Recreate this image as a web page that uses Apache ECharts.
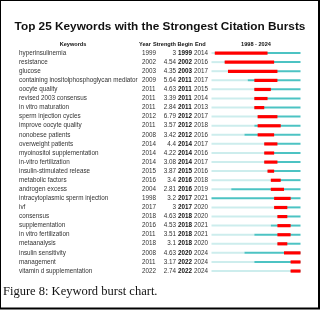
<!DOCTYPE html>
<html>
<head>
<meta charset="utf-8">
<script src="https://cdn.jsdelivr.net/npm/echarts@6/dist/echarts.min.js"></script>
<style>
  html, body { margin: 0; padding: 0; background: #fff; }
  #chart { width: 320px; height: 310px; }
</style>
</head>
<body>
<div id="chart"></div>
<script>
const keywords = [
    "hyperinsulinemia", "resistance", "glucose", "containing inositolphosphoglycan mediator",
    "oocyte quality", "revised 2003 consensus", "in vitro maturation", "sperm injection cycles",
    "improve oocyte quality", "nonobese patients", "overweight patients", "myoinositol supplementation",
    "in-vitro fertilization", "insulin-stimulated release", "metabolic factors", "androgen excess",
    "intracytoplasmic sperm injection", "ivf", "consensus", "supplementation",
    "in vitro fertilization", "metaanalysis", "insulin sensitivity", "management",
    "vitamin d supplementation"
];
const years = [1999, 2002, 2003, 2009, 2011, 2011, 2011, 2012, 2011, 2008, 2014, 2014, 2014,
    2015, 2016, 2004, 1998, 2017, 2018, 2016, 2011, 2018, 2008, 2011, 2022];
const strengths = ["3", "4.54", "4.35", "5.64", "4.63", "3.39", "2.84", "6.79", "3.57", "3.42",
    "4.4", "4.22", "3.08", "3.87", "3.4", "2.81", "3.2", "3", "4.63", "4.53", "3.51", "3.1",
    "4.63", "3.17", "2.74"];
const begins = [1999, 2002, 2003, 2011, 2011, 2011, 2011, 2012, 2012, 2012, 2014, 2014, 2014,
    2015, 2016, 2016, 2017, 2017, 2018, 2018, 2018, 2018, 2020, 2022, 2022];
const ends = [2014, 2016, 2017, 2017, 2015, 2014, 2013, 2017, 2018, 2016, 2017, 2016, 2017,
    2016, 2018, 2019, 2021, 2020, 2020, 2021, 2021, 2020, 2024, 2024, 2024];
const firstYear = 1998;
const lastYear = 2024;

const txt = "#333";
const font = "Liberation Sans";
const fs = 6.3;

const chart = echarts.init(document.getElementById("chart"));

function colAxis(data, align, margin, bold) {
    return {
        type: "category",
        data: data,
        inverse: true,
        position: "left",
        axisLine: { show: false },
        axisTick: { show: false },
        splitLine: { show: false },
        axisLabel: {
            align: align,
            margin: margin,
            fontSize: fs,
            color: bold ? "#111" : txt,
            fontWeight: bold ? "bold" : "normal",
            fontFamily: font,
            interval: 0
        }
    };
}

function renderBurst(params, api) {
    const row = api.value(0);
    const y = api.coord([firstYear, row])[1];
    const x0 = api.coord([firstYear, row])[0];
    const xY = api.coord([api.value(1), row])[0];
    const xB = api.coord([api.value(2), row])[0];
    const xE = api.coord([api.value(3) + 1, row])[0];
    const x1 = api.coord([lastYear + 1, row])[0];
    return {
        type: "group",
        children: [
            { type: "rect", shape: { x: x0, y: y - 1, width: xY - x0, height: 2 },
              style: { fill: "#cdeded" } },
            { type: "rect", shape: { x: xY, y: y - 1, width: x1 - xY, height: 2 },
              style: { fill: "#4cc3c3" } },
            { type: "rect", shape: { x: xB, y: y - 1.5, width: xE - xB, height: 3.2 },
              style: { fill: "#ff0000" } }
        ]
    };
}

const burstData = keywords.map((k, i) => [i, years[i], begins[i], ends[i]]);

function head(text, x, align) {
    return {
        type: "text", x: x, y: 44,
        style: { text: text, fontSize: 5.6, fontWeight: "bold", fill: "#111", fontFamily: font,
                 textAlign: align, textVerticalAlign: "middle" }
    };
}

chart.setOption({
    backgroundColor: "#fff",
    animation: false,
    title: {
        text: "Top 25 Keywords with the Strongest Citation Bursts",
        left: "center",
        top: 16,
        textStyle: { fontSize: 11.8, fontWeight: "bold", color: "#111", fontFamily: font }
    },
    grid: { left: 211.5, right: 19.5, top: 48.5, bottom: 34.5 },
    xAxis: { type: "value", min: firstYear, max: lastYear + 1, show: false },
    yAxis: [
        colAxis(keywords, "left", 192.5, false),
        colAxis(years, "left", 69.5, false),
        colAxis(strengths, "right", 35.5, false),
        colAxis(begins, "left", 33.5, true),
        colAxis(ends, "left", 17.5, false)
    ],
    series: [{
        type: "custom",
        renderItem: renderBurst,
        encode: { x: [1, 2, 3], y: 0 },
        data: burstData
    }],
    graphic: [
        { type: "rect", shape: { x: 0, y: 0, width: 319, height: 308.5 },
          style: { fill: null, stroke: "#000", lineWidth: 2 } },
        head("Keywords", 73, "center"),
        head("Year", 139, "left"),
        head("Strength", 176, "right"),
        head("Begin", 177.5, "left"),
        head("End", 195, "left"),
        head("1998 - 2024", 256, "center"),
        { type: "text", x: 3, y: 292,
          style: { text: "Figure 8: Keyword burst chart.", fontSize: 12.5, fill: "#111",
                   fontFamily: "Liberation Serif", textVerticalAlign: "middle" } }
    ]
});
</script>
</body>
</html>
